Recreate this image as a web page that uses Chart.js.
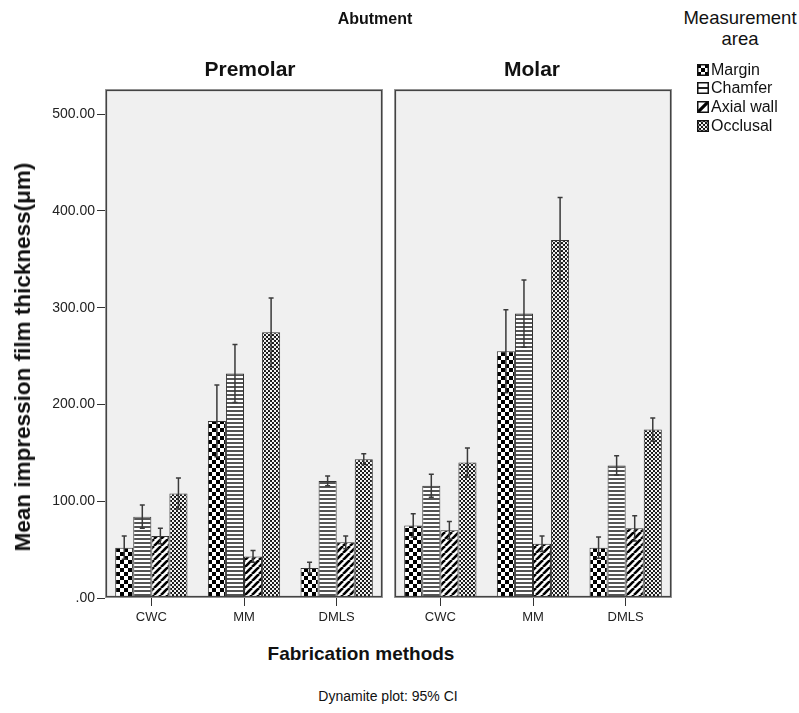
<!DOCTYPE html>
<html>
<head>
<meta charset="utf-8">
<script src="https://cdn.jsdelivr.net/npm/chart.js@4.4.0/dist/chart.umd.min.js"></script>
<style>
  html, body { margin: 0; padding: 0; background: #ffffff; }
  body { width: 799px; height: 713px; position: relative; overflow: hidden; font-family: "Liberation Sans", Arial, sans-serif; color: #111; }
  canvas { position: absolute; }
  .t { position: absolute; white-space: nowrap; }
  .c { transform: translateX(-50%); }
  .legend-row { position: absolute; left: 697px; height: 16px; display: flex; align-items: center; font-size: 16px; color: #111; }
  .legend-row canvas { position: static; margin-right: 2px; }
</style>
</head>
<body>
<canvas id="left" width="389" height="640" style="left:0;top:0;width:389px;height:640px"></canvas>
<canvas id="right" width="289" height="640" style="left:389px;top:0;width:289px;height:640px"></canvas>

<div class="t c" style="left:375px;top:10px;font-size:16px;font-weight:bold;">Abutment</div>
<div class="t c" style="left:250px;top:57px;font-size:21px;font-weight:bold;">Premolar</div>
<div class="t c" style="left:532px;top:57px;font-size:21px;font-weight:bold;">Molar</div>
<div class="t" style="left:23px;top:357px;font-size:22.5px;font-weight:bold;transform:translate(-50%,-50%) rotate(-90deg);">Mean impression film thickness(μm)</div>
<div class="t c" style="left:361px;top:643px;font-size:19px;font-weight:bold;">Fabrication methods</div>
<div class="t c" style="left:388px;top:688px;font-size:14px;">Dynamite plot: 95% CI</div>
<div class="t c" style="left:740px;top:7px;font-size:18.5px;text-align:center;line-height:21px;">Measurement<br>area</div>
<div id="legend"></div>

<script>
// ---------- data ----------
const categories = ['CWC', 'MM', 'DMLS'];
const seriesNames = ['Margin', 'Chamfer', 'Axial wall', 'Occlusal'];
const yTickValues = [0, 100, 200, 300, 400, 500];

// Premolar panel: means and 95% CI bounds
const premolarMargin   = [52, 183, 31];
const premolarChamfer  = [84, 232, 121];
const premolarAxial    = [64, 43, 57.5];
const premolarOcclusal = [108, 274.5, 143.5];
const premolarMarginHi   = [64, 220, 37];
const premolarChamferHi  = [96, 262, 126];
const premolarAxialHi    = [72, 49, 64];
const premolarOcclusalHi = [124, 310, 149];
const premolarMarginLo   = [40, 146, 26];
const premolarChamferLo  = [72, 202, 116];
const premolarAxialLo    = [56, 37, 51];
const premolarOcclusalLo = [92, 239, 138];

// Molar panel
const molarMargin   = [75, 255, 52];
const molarChamfer  = [116, 294, 137];
const molarAxial    = [70, 56, 72];
const molarOcclusal = [140, 370, 174];
const molarMarginHi   = [87, 298, 63];
const molarChamferHi  = [128, 328.5, 147];
const molarAxialHi    = [79, 64, 85];
const molarOcclusalHi = [155, 414, 186];
const molarMarginLo   = [63, 212, 41];
const molarChamferLo  = [104, 259, 127];
const molarAxialLo    = [61, 48, 59];
const molarOcclusalLo = [125, 326, 162];

// ---------- patterns ----------
function makeTile(w, h, draw) {
  const c = document.createElement('canvas');
  c.width = w; c.height = h;
  const g = c.getContext('2d');
  draw(g, w, h);
  return c;
}
const tiles = [
  makeTile(8, 8, (g) => { g.fillStyle = '#fff'; g.fillRect(0,0,8,8); g.fillStyle = '#000'; g.fillRect(0,0,4,4); g.fillRect(4,4,4,4); }),
  makeTile(4, 4, (g) => { g.fillStyle = '#fff'; g.fillRect(0,0,4,4); g.fillStyle = '#555'; g.fillRect(0,2,4,2); }),
  makeTile(7, 7, (g) => {
    g.fillStyle = '#fff'; g.fillRect(0,0,7,7);
    g.strokeStyle = '#000'; g.lineWidth = 2.6;
    for (const o of [-7, 0, 7]) { g.beginPath(); g.moveTo(o, 7); g.lineTo(o + 7, 0); g.stroke(); }
  }),
  makeTile(4, 4, (g) => {
    g.fillStyle = '#111'; g.fillRect(0,0,4,4);
    g.fillStyle = '#fff';
    g.beginPath(); g.arc(1, 1, 1.15, 0, Math.PI*2); g.fill();
    g.beginPath(); g.arc(3, 3, 1.15, 0, Math.PI*2); g.fill();
  })
];
function patternFor(ctx, i) { return ctx.createPattern(tiles[i], 'repeat'); }

// ---------- plugins ----------
const panelPlugin = {
  id: 'panel',
  beforeDraw(chart) {
    const a = chart.chartArea, ctx = chart.ctx;
    ctx.save(); ctx.fillStyle = '#f0f0f0';
    ctx.fillRect(a.left, a.top, a.right - a.left, a.bottom - a.top);
    ctx.restore();
  },
  afterDraw(chart) {
    const a = chart.chartArea, ctx = chart.ctx;
    ctx.save();
    ctx.strokeStyle = '#9a9a9a'; ctx.lineWidth = 1;
    ctx.strokeRect(a.left + 0.5, a.top + 0.5, a.right - a.left - 1, a.bottom - a.top - 1);
    ctx.strokeStyle = '#444'; ctx.lineWidth = 1.2;
    ctx.strokeRect(a.left + 1.5, a.top + 1.5, a.right - a.left - 3, a.bottom - a.top - 3);
    ctx.restore();
  }
};
const errorBarPlugin = {
  id: 'errbars',
  afterDatasetsDraw(chart) {
    const ctx = chart.ctx, ys = chart.scales.y;
    ctx.save();
    ctx.strokeStyle = '#3a3a3a'; ctx.lineWidth = 1.5;
    chart.data.datasets.forEach((ds, i) => {
      const meta = chart.getDatasetMeta(i);
      meta.data.forEach((el, j) => {
        const x = el.x;
        const yH = ys.getPixelForValue(ds.ciHigh[j]);
        const yL = ys.getPixelForValue(ds.ciLow[j]);
        ctx.beginPath();
        ctx.moveTo(x, yL); ctx.lineTo(x, yH);
        ctx.moveTo(x - 2.5, yH); ctx.lineTo(x + 2.5, yH);
        ctx.moveTo(x - 2.5, yL); ctx.lineTo(x + 2.5, yL);
        ctx.stroke();
      });
    });
    ctx.restore();
  }
};

function buildDatasets(ctx, means, his, los) {
  return means.map((m, i) => ({
    label: seriesNames[i],
    data: m,
    ciHigh: his[i],
    ciLow: los[i],
    backgroundColor: patternFor(ctx, i),
    borderColor: '#333',
    borderWidth: 1,
    categoryPercentage: 0.78,
    barPercentage: 1.0
  }));
}

function makeChart(id, means, his, los, showY, padL) {
  const cv = document.getElementById(id);
  const ctx = cv.getContext('2d');
  return new Chart(ctx, {
    type: 'bar',
    data: { labels: categories, datasets: buildDatasets(ctx, means, his, los) },
    options: {
      responsive: false,
      animation: false,
      devicePixelRatio: 1,
      layout: { padding: { left: padL, right: 6, top: 89, bottom: 0 } },
      plugins: { legend: { display: false }, tooltip: { enabled: false }, title: { display: false } },
      scales: {
        x: {
          grid: { display: true, drawOnChartArea: false, drawTicks: true, tickLength: 8, offset: false, color: '#333', lineWidth: 1 },
          border: { display: false },
          ticks: { color: '#222', font: { family: 'Liberation Sans', size: 13 }, padding: 4 },
          afterFit(s) { s.height = 42; }
        },
        y: {
          display: showY,
          min: 0,
          max: 526,
          afterBuildTicks(s) { s.ticks = yTickValues.map(v => ({ value: v })); },
          grid: { display: true, drawOnChartArea: false, drawTicks: true, tickLength: 8, color: '#333', lineWidth: 1 },
          border: { display: false },
          ticks: {
            color: '#222', font: { family: 'Liberation Sans', size: 14 }, padding: 2,
            callback: (v) => v === 0 ? '.00' : Number(v).toFixed(2)
          },
          afterFit(s) { s.width = showY ? 105 : 0; }
        }
      }
    },
    plugins: [panelPlugin, errorBarPlugin]
  });
}

makeChart('left',
  [premolarMargin, premolarChamfer, premolarAxial, premolarOcclusal],
  [premolarMarginHi, premolarChamferHi, premolarAxialHi, premolarOcclusalHi],
  [premolarMarginLo, premolarChamferLo, premolarAxialLo, premolarOcclusalLo],
  true, 0);
makeChart('right',
  [molarMargin, molarChamfer, molarAxial, molarOcclusal],
  [molarMarginHi, molarChamferHi, molarAxialHi, molarOcclusalHi],
  [molarMarginLo, molarChamferLo, molarAxialLo, molarOcclusalLo],
  false, 5);

// ---------- legend ----------
const swatchDraw = [
  (g) => { g.fillStyle = '#fff'; g.fillRect(0,0,12,12); g.fillStyle = '#000'; g.fillRect(0,0,4,4); g.fillRect(8,0,4,4); g.fillRect(4,4,4,4); g.fillRect(0,8,4,4); g.fillRect(8,8,4,4); },
  (g) => { g.fillStyle = '#fff'; g.fillRect(0,0,12,12); g.fillStyle = '#222'; g.fillRect(0,5,12,2); },
  (g) => { g.fillStyle = '#fff'; g.fillRect(0,0,12,12); g.strokeStyle = '#000'; g.lineWidth = 3.2; g.beginPath(); g.moveTo(0,12); g.lineTo(12,0); g.stroke(); },
  (g) => { g.fillStyle = g.createPattern(tiles[3], 'repeat'); g.fillRect(0,0,12,12); }
];
const legendRowsY = [62, 80, 99, 118];
const legendEl = document.getElementById('legend');
seriesNames.forEach((name, i) => {
  const row = document.createElement('div');
  row.className = 'legend-row';
  row.style.top = legendRowsY[i] + 'px';
  const sw = document.createElement('canvas');
  sw.width = 12; sw.height = 12;
  sw.style.width = '12px'; sw.style.height = '12px';
  const g = sw.getContext('2d');
  swatchDraw[i](g);
  g.strokeStyle = '#111'; g.lineWidth = 1.5; g.strokeRect(0.75, 0.75, 10.5, 10.5);
  row.appendChild(sw);
  const span = document.createElement('span');
  span.textContent = name;
  row.appendChild(span);
  legendEl.appendChild(row);
});
</script>
</body>
</html>
